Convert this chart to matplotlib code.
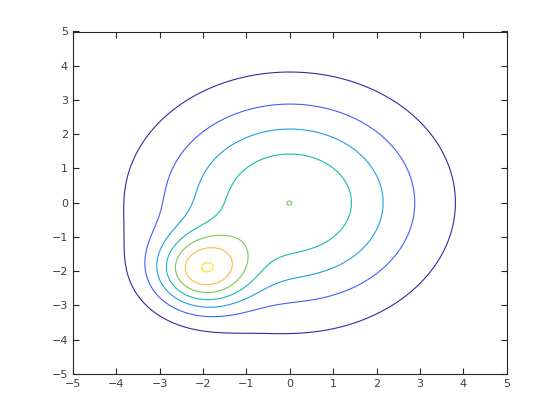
import numpy as np
import matplotlib
matplotlib.use("Agg")
import matplotlib.pyplot as plt

# Field = sum of two Gaussian bumps
bump_cx = [0.0, -2.01]
bump_cy = [0.0, -2.0]
bump_amp = [4.998, 4.92]
bump_w = [9.05, 1.12]          # 2*sigma^2
levels = [1, 2, 3, 4, 5, 6, 7]
level_colors = ["#3e26a8", "#455ef9", "#219ee0", "#17bcad", "#7ac856", "#fbba3f", "#f5e31a"]
ticks = [-5, -4, -3, -2, -1, 0, 1, 2, 3, 4, 5]

x = np.linspace(-5, 5, 401)
y = np.linspace(-5, 5, 401)
X, Y = np.meshgrid(x, y)
Z = np.zeros_like(X)
for cx, cy, a, w in zip(bump_cx, bump_cy, bump_amp, bump_w):
    Z += a * np.exp(-((X - cx) ** 2 + (Y - cy) ** 2) / w)

fig = plt.figure(figsize=(5.6, 4.2), dpi=100)
ax = fig.add_axes([0.13, 0.11, 0.775, 0.815])
ax.contour(X, Y, Z, levels=levels, colors=level_colors, linewidths=0.8)
ax.set_xlim(-5, 5)
ax.set_ylim(-5, 5)
ax.set_xticks(ticks)
ax.set_yticks(ticks)
ax.tick_params(direction="in", top=True, right=True, length=4, width=0.8,
               labelsize=8, colors="#262626", labelcolor="#404040")
for s in ax.spines.values():
    s.set_color("#262626")
    s.set_linewidth(0.8)
fig.savefig("out.png", dpi=100)
